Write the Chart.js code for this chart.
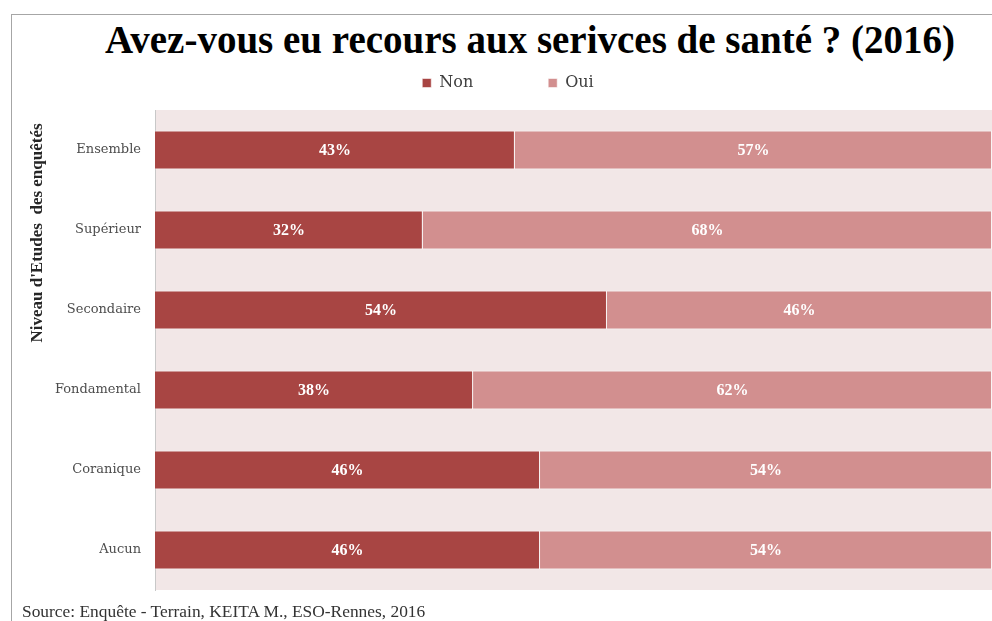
<!DOCTYPE html>
<html>
<head>
<meta charset="utf-8">
<script src="https://cdn.jsdelivr.net/npm/chart.js@4/dist/chart.umd.min.js"></script>
<style>
  html, body { margin: 0; padding: 0; background: #fff; overflow: hidden; }
  #wrap { position: relative; width: 992px; height: 621px; }
  #frame { position: absolute; left: 11px; top: 14px; right: -2px; bottom: -2px;
           border-top: 1px solid #a6a6a6; border-left: 1px solid #a6a6a6; }
  #title { position: absolute; left: 530px; top: 20px; transform: translateX(-50%);
           font: bold 39px "Liberation Serif", serif; line-height: 39px;
           white-space: nowrap; color: #000; }
  #source { position: absolute; left: 22px; top: 603px; font: 17.4px "Liberation Serif", serif;
            line-height: 17px; color: #333; white-space: nowrap; }
  canvas { position: absolute; left: 0; top: 0; }
</style>
</head>
<body>
<div id="wrap">
  <div id="frame"></div>
  <div id="title">Avez-vous eu recours aux serivces de santé ? (2016)</div>
  <canvas id="sante-chart" width="992" height="621"></canvas>
  <div id="source">Source: Enquête - Terrain, KEITA M., ESO-Rennes, 2016</div>
</div>
<script>
// Recours aux services de santé selon le niveau d'études (en %)
const niveaux = ['Ensemble', 'Supérieur', 'Secondaire', 'Fondamental', 'Coranique', 'Aucun'];
const non = [43, 32, 54, 38, 46, 46];
const oui = [57, 68, 46, 62, 54, 54];

const axisTitle = "Niveau d'Etudes  des enquêtés";

// fond rose de la zone de tracé
const plotBackground = {
    id: 'plotBackground',
    beforeDraw(chart) {
        const { ctx, chartArea: a } = chart;
        ctx.save();
        ctx.fillStyle = '#f2e7e7';
        ctx.fillRect(a.left, a.top, a.right - a.left, a.bottom - a.top);
        ctx.restore();
    }
};

// pourcentages écrits au milieu de chaque segment
const barLabels = {
    id: 'barLabels',
    afterDatasetsDraw(chart) {
        const { ctx } = chart;
        ctx.save();
        ctx.font = 'bold 16px "Liberation Serif", serif';
        ctx.fillStyle = '#ffffff';
        ctx.textAlign = 'center';
        ctx.textBaseline = 'middle';
        chart.data.datasets.forEach((ds, i) => {
            chart.getDatasetMeta(i).data.forEach((bar, j) => {
                const p = bar.getCenterPoint();
                ctx.fillText(ds.data[j] + '%', p.x, p.y + 1);
            });
        });
        ctx.restore();
    }
};

// titre vertical de l'axe des niveaux
const sideTitle = {
    id: 'sideTitle',
    afterDraw(chart) {
        const { ctx, chartArea: a } = chart;
        ctx.save();
        ctx.translate(38, a.top + 123);
        ctx.rotate(-Math.PI / 2);
        ctx.font = 'bold 17px "Liberation Serif", serif';
        ctx.fillStyle = '#262626';
        ctx.textAlign = 'center';
        ctx.textBaseline = 'middle';
        ctx.fillText(axisTitle, 0, 0);
        ctx.restore();
    }
};

new Chart('sante-chart', {
    type: 'bar',
    data: {
        labels: niveaux,
        datasets: [
            { label: 'Non', data: non, backgroundColor: '#a84543',
              borderColor: 'rgba(255,255,255,0.55)', borderWidth: 1 },
            { label: 'Oui', data: oui, backgroundColor: '#d28f8f',
              borderColor: 'rgba(255,255,255,0.55)', borderWidth: 1 }
        ]
    },
    options: {
        indexAxis: 'y',
        responsive: false,
        animation: false,
        layout: { padding: { left: 24, right: 0, top: 0, bottom: 31 } },
        datasets: { bar: { barPercentage: 0.49, categoryPercentage: 1 } },
        scales: {
            x: {
                stacked: true,
                min: 0,
                max: 100,
                position: 'top',
                ticks: { display: false },
                grid: { display: false, drawTicks: false },
                border: { display: false },
                afterFit: s => { s.height = 9; }
            },
            y: {
                stacked: true,
                ticks: {
                    color: '#4d4d4d',
                    padding: 14,
                    font: { family: '"DejaVu Serif", serif', size: 13 }
                },
                grid: { display: false, drawTicks: false },
                border: { display: true, color: '#c8c8c8', width: 1 },
                afterFit: s => { s.width = 131; }
            }
        },
        plugins: {
            legend: {
                position: 'top',
                labels: {
                    boxWidth: 9,
                    boxHeight: 9,
                    padding: 75,
                    color: '#404040',
                    font: { family: '"DejaVu Serif", serif', size: 16 }
                }
            },
            tooltip: { enabled: false }
        }
    },
    plugins: [plotBackground, barLabels, sideTitle]
});
</script>
</body>
</html>
